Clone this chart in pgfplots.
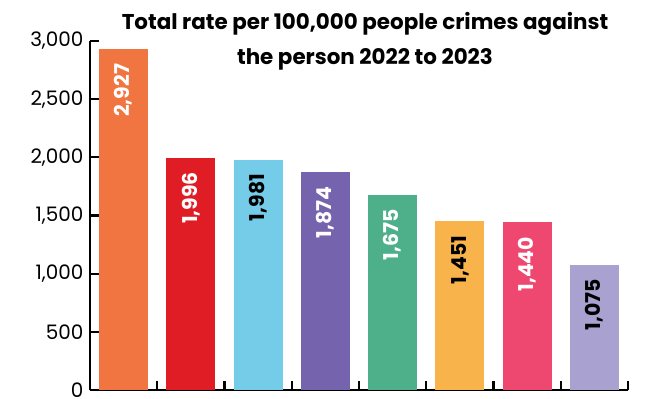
\documentclass[border=0pt]{standalone}
\usepackage{pgfplots}
\pgfplotsset{compat=1.18}
\usepackage{fontspec}
\setmainfont{Poppins}
\definecolor{c1}{HTML}{F07541}
\definecolor{c2}{HTML}{E01C24}
\definecolor{c3}{HTML}{74CCE8}
\definecolor{c4}{HTML}{7563AD}
\definecolor{c5}{HTML}{4DB08A}
\definecolor{c6}{HTML}{F8B34B}
\definecolor{c7}{HTML}{EE4870}
\definecolor{c8}{HTML}{A9A1D0}
\begin{document}
\begin{tikzpicture}[x=1bp,y=1bp]
\clip (0,0) rectangle (653,398);
\useasboundingbox (0,0) rectangle (653,398);
\begin{axis}[
  at={(90bp,8bp)}, anchor=south west,
  scale only axis, width=538bp, height=349bp,
  xmin=-0.5, xmax=7.5, ymin=0, ymax=3000,
  axis lines*=left,
  axis line style={line width=2.5bp, black},
  ytick={0,500,...,3000},
  xtick={0.5,1.5,...,7.5},
  xticklabels={},
  tick align=outside,
  major tick length=-9bp,
  tick style={line width=2.2bp, black},
  /pgf/number format/.cd, 1000 sep={,}, assume math mode=true,
  /pgfplots/.cd,
  yticklabel style={font=\fontsize{20}{20}\selectfont, xshift=-12bp},
  ybar, bar width=49bp, bar shift=0pt,
  nodes near coords,
  every node near coord/.style={font=\bfseries\fontsize{20.5}{20.5}\selectfont, yshift=-11bp, rotate=90, anchor=east},
  clip=false,
]
\addplot[fill=c1, draw=none, every node near coord/.append style={text=white}] coordinates {(0,2927)};
\addplot[fill=c2, draw=none, every node near coord/.append style={text=white}] coordinates {(1,1996)};
\addplot[fill=c3, draw=none, every node near coord/.append style={text=black}] coordinates {(2,1981)};
\addplot[fill=c4, draw=none, every node near coord/.append style={text=white}] coordinates {(3,1874)};
\addplot[fill=c5, draw=none, every node near coord/.append style={text=white}] coordinates {(4,1675)};
\addplot[fill=c6, draw=none, every node near coord/.append style={text=black}] coordinates {(5,1451)};
\addplot[fill=c7, draw=none, every node near coord/.append style={text=white}] coordinates {(6,1440)};
\addplot[fill=c8, draw=none, every node near coord/.append style={text=black}] coordinates {(7,1075)};
\end{axis}
\node[font=\bfseries\fontsize{21.5}{35}\selectfont, align=center, anchor=north] at (365,389) {Total rate per 100,000 people crimes against\\the person 2022 to 2023};
\end{tikzpicture}
\end{document}
